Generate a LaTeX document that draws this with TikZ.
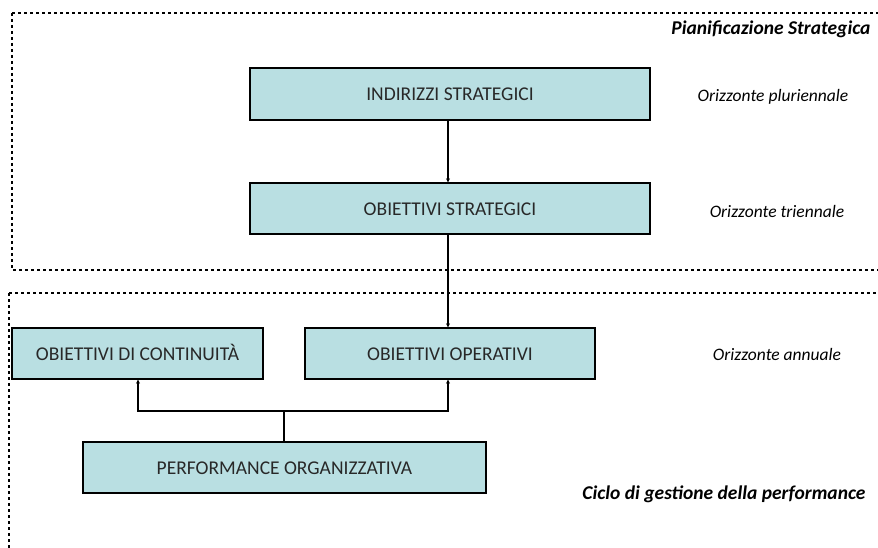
\documentclass[tikz,border=0pt]{standalone}
\usepackage{fontspec}
\setmainfont{Carlito}
\usetikzlibrary{arrows.meta}
\definecolor{boxfill}{RGB}{185,223,226}
\definecolor{txt}{RGB}{40,40,40}
\begin{document}
\begin{tikzpicture}[x=1pt,y=-1pt,
  blk/.style={draw=black,line width=1.3pt,fill=boxfill,inner sep=0pt,text=txt,
    text height=13pt,text depth=0pt,font=\fontsize{19.5}{22}\selectfont},
  zone/.style={draw=black,line width=1.4pt,dash pattern=on 3pt off 3pt},
  lab/.style={font=\fontsize{17.5}{20}\selectfont\itshape},
  blab/.style={font=\fontsize{19.5}{22}\selectfont\bfseries\itshape},
  conn/.style={line width=1.2pt,-{Stealth[length=4pt,width=4pt]}}]
\useasboundingbox (0,0) rectangle (878,548);
\begin{scope}
\clip (0,0) rectangle (878,548);
\draw[zone] (12,13) -- (890,13) (12,13) -- (12,270) -- (890,270);
\draw[zone] (9,293) -- (890,293) (9,293) -- (9,560);
\end{scope}
\node[blab,anchor=east] (ps) at (874,29) {Pianificazione Strategica};
\node[blk,minimum width=400pt,minimum height=52pt] (ind) at (450,94) {INDIRIZZI STRATEGICI};
\node[blk,minimum width=400pt,minimum height=51pt] (obs) at (450,208.5) {OBIETTIVI STRATEGICI};
\node[blk,minimum width=251pt,minimum height=51pt] (cont) at (137.5,353.5) {OBIETTIVI DI CONTINUITÀ};
\node[blk,minimum width=290pt,minimum height=51pt] (oper) at (450,353.5) {OBIETTIVI OPERATIVI};
\node[blk,minimum width=403pt,minimum height=51pt] (perf) at (284.5,467.5) {PERFORMANCE ORGANIZZATIVA};
\node[lab] (h1) at (773,97) {Orizzonte pluriennale};
\node[lab] (h2) at (777,211) {Orizzonte triennale};
\node[lab] (h3) at (777,354) {Orizzonte annuale};
\node[blab,anchor=east] (cg) at (869,494) {Ciclo di gestione della performance};
\draw[conn] (ind.south -| 448,0) -- (obs.north -| 448,0);
\draw[conn] (obs.south -| 448,0) -- (oper.north -| 448,0);
\coordinate (j) at (284,411);
\draw[line width=1.2pt] (perf.north -| j) -- (j);
\draw[conn] (j) -| (cont.south -| 138,0);
\draw[conn] (j) -| (oper.south -| 448,0);
\end{tikzpicture}
\end{document}
